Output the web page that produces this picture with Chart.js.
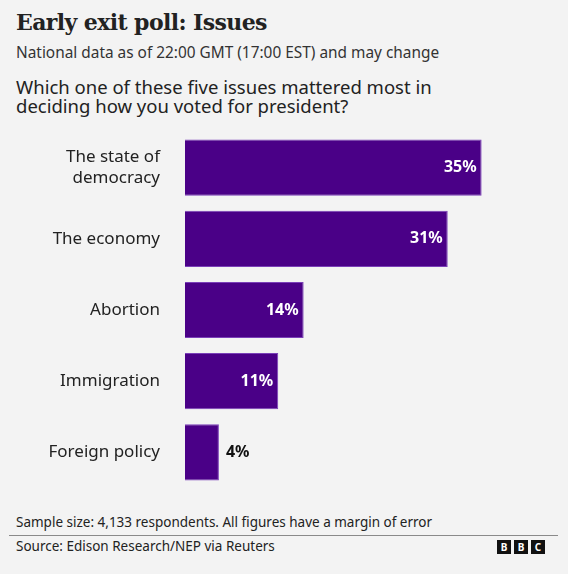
<!DOCTYPE html>
<html>
<head>
<meta charset="utf-8">
<script src="https://cdn.jsdelivr.net/npm/chart.js@4"></script>
<style>
  body { margin:0; background:#f3f3f3; font-family:"Noto Sans", sans-serif; color:#222; }
  #page { position:relative; width:568px; height:574px; overflow:hidden; }
  .t { position:absolute; left:16px; white-space:nowrap; }
  #title { top:9px; font-family:"DejaVu Serif", serif; font-weight:bold; font-size:22px; color:#222; letter-spacing:-0.6px; }
  #sub { top:42px; font-size:15.4px; color:#333; }
  #q { top:77px; font-size:18.5px; line-height:19px; color:#222; }
  #chart { position:absolute; left:0; top:132px; }
  #note { top:513px; font-size:13.5px; color:#222; }
  #rule { position:absolute; left:9px; width:549px; top:535px; height:1px; background:#8a8a8a; }
  #src { top:537px; font-size:13.5px; color:#222; }
  #bbc { position:absolute; left:497px; top:540px; display:flex; gap:3px; }
  #bbc span { width:14px; height:14px; background:#111; color:#fff; font:bold 10px "Noto Sans", sans-serif; text-align:center; line-height:14px; }
</style>
</head>
<body>
<div id="page">
  <div class="t" id="title">Early exit poll: Issues</div>
  <div class="t" id="sub">National data as of 22:00 GMT (17:00 EST) and may change</div>
  <div class="t" id="q">Which one of these five issues mattered most in<br>deciding how you voted for president?</div>
  <canvas id="chart" width="568" height="356"></canvas>
  <div class="t" id="note">Sample size: 4,133 respondents. All figures have a margin of error</div>
  <div id="rule"></div>
  <div class="t" id="src">Source: Edison Research/NEP via Reuters</div>
  <div id="bbc"><span>B</span><span>B</span><span>C</span></div>
</div>
<script>
const issues = [["The state of","democracy"], "The economy", "Abortion", "Immigration", "Foreign policy"];
const shares = [35, 31, 14, 11, 4];

const barColor = "#4a0087";

const valueLabels = {
  id: "valueLabels",
  afterDatasetsDraw(chart){
    const ctx = chart.ctx;
    const bars = chart.getDatasetMeta(0).data;
    ctx.save();
    ctx.font = "bold 16px 'Noto Sans', sans-serif";
    ctx.textBaseline = "middle";
    bars.forEach((bar,i)=>{
      const txt = shares[i] + "%";
      const w = ctx.measureText(txt).width;
      if(bar.x - bar.base > w + 14){
        ctx.fillStyle = "#ffffff";
        ctx.textAlign = "right";
        ctx.fillText(txt, bar.x - 5, bar.y);
      } else {
        ctx.fillStyle = "#111111";
        ctx.textAlign = "left";
        ctx.fillText(txt, bar.x + 7, bar.y);
      }
    });
    ctx.restore();
  }
};

new Chart(document.getElementById("chart"),{
  type:"bar",
  data:{
    labels:issues,
    datasets:[{
      data:shares,
      backgroundColor:barColor,
      borderColor:"#7a3fb8",
      borderWidth:1,
      categoryPercentage:0.79,
      barPercentage:1
    }]
  },
  options:{
    indexAxis:"y",
    responsive:false,
    animation:false,
    layout:{ padding:{ right:44, top:0, bottom:0, left:0 } },
    plugins:{ legend:{display:false}, tooltip:{enabled:false} },
    scales:{
      x:{ display:false, min:0, max:40 },
      y:{
        afterFit(scale){
          scale.width = 185;
          scale.paddingTop = 0;
          scale.paddingBottom = 0;
        },
        grid:{ display:false, drawTicks:false },
        border:{ display:false },
        ticks:{
          padding:25,
          color:"#222",
          font:{ family:"'Noto Sans', sans-serif", size:17, lineHeight:1.2 }
        }
      }
    }
  },
  plugins:[valueLabels]
});
</script>
</body>
</html>
